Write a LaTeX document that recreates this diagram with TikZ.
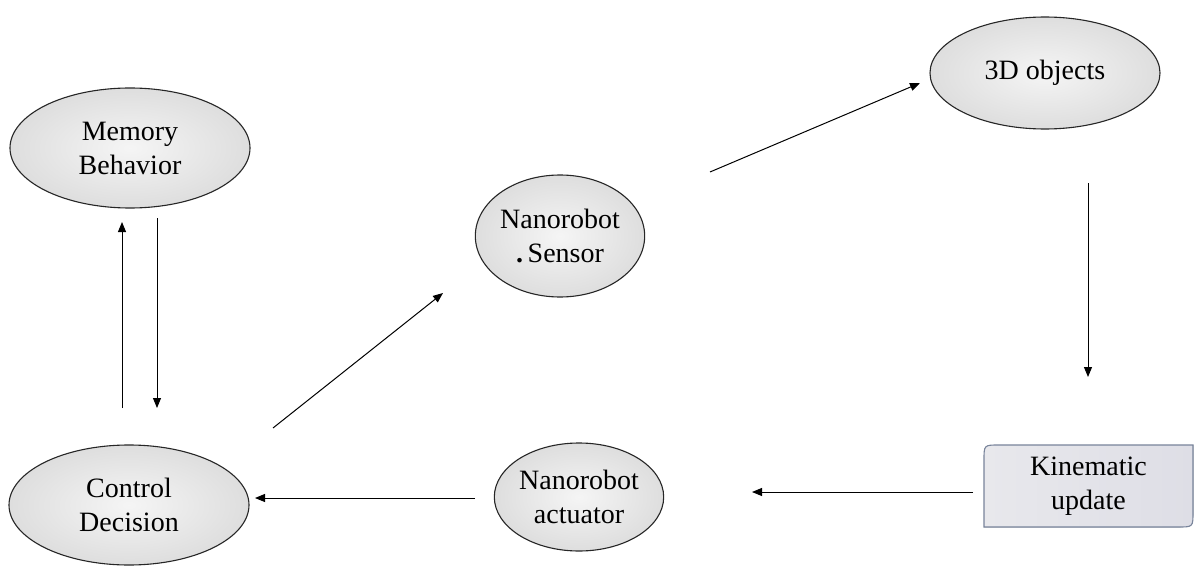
\documentclass[tikz,border=0pt]{standalone}
\usepackage{fontspec}
\setmainfont{Liberation Serif}
\usetikzlibrary{shapes.geometric,arrows.meta,calc}
\definecolor{boxedge}{RGB}{120,132,155}
\definecolor{boxfillA}{RGB}{232,232,236}
\definecolor{boxfillB}{RGB}{222,222,230}
\begin{document}
\begin{tikzpicture}[x=1pt,y=-1pt,
  oval/.style={ellipse, draw=black!85, line width=1.1pt, inner sep=0pt,
     inner color=gray!8, outer color=gray!26, align=center,
     font=\fontsize{28}{34}\selectfont},
  kbox/.style={rectangle, draw=none, inner sep=0pt, align=center,
     minimum width=209pt, minimum height=82pt,
     font=\fontsize{28}{34}\selectfont},
  arr/.style={line width=1pt, -{Triangle[length=10pt,width=8pt]}}]
\useasboundingbox (0,0) rectangle (1197,567);
\fill[white] (0,0) rectangle (1197,567);

\node[oval, minimum width=240pt, minimum height=120pt] (mem) at (130,148) {Memory\\Behavior};
\node[oval, minimum width=240pt, minimum height=120pt] (ctl) at (129,505) {Control\\Decision};
\node[oval, minimum width=162pt, minimum height=122pt] (sen) at (560,236) {Nanorobot\\\textbf{.}\,Sensor};
\node[oval, minimum width=230pt, minimum height=112pt] (obj) at (1045,73) {3D objects};
\node[oval, minimum width=166pt, minimum height=108pt] (act) at (579,497) {Nanorobot\\actuator};

% kinematic box: rounded top-left and bottom-right corners
\fill[left color=boxfillA, right color=boxfillB, draw=none]
  (984,460) .. controls (984,445) .. (999,445) -- (1193,445) -- (1193,512)
  .. controls (1193,527) .. (1178,527) -- (984,527) -- cycle;
\draw[draw=boxedge, line width=1.1pt]
  (984,460) .. controls (984,445) .. (999,445) -- (1193,445) -- (1193,512)
  .. controls (1193,527) .. (1178,527) -- (984,527) -- cycle;
\node[kbox] (kin) at (1088.5,486) {Kinematic\\update};

% connector end points
\coordinate (u1) at (122,408); \coordinate (u2) at (122,222);
\coordinate (d1) at (157,218); \coordinate (d2) at (157,408);
\coordinate (cs1) at (273,428); \coordinate (cs2) at (443,293);
\coordinate (so1) at (710,172); \coordinate (so2) at (920,83);
\coordinate (ok1) at (1088,183); \coordinate (ok2) at (1088,377);
\coordinate (ka1) at (973,492); \coordinate (ka2) at (752,492);
\coordinate (ac1) at (475,498); \coordinate (ac2) at (255,498);

\draw[arr] (u1) -- (u2);
\draw[arr] (d1) -- (d2);
\draw[arr] (cs1) -- (cs2);
\draw[arr] (so1) -- (so2);
\draw[arr] (ok1) -- (ok2);
\draw[arr] (ka1) -- (ka2);
\draw[arr] (ac1) -- (ac2);
\end{tikzpicture}
\end{document}
